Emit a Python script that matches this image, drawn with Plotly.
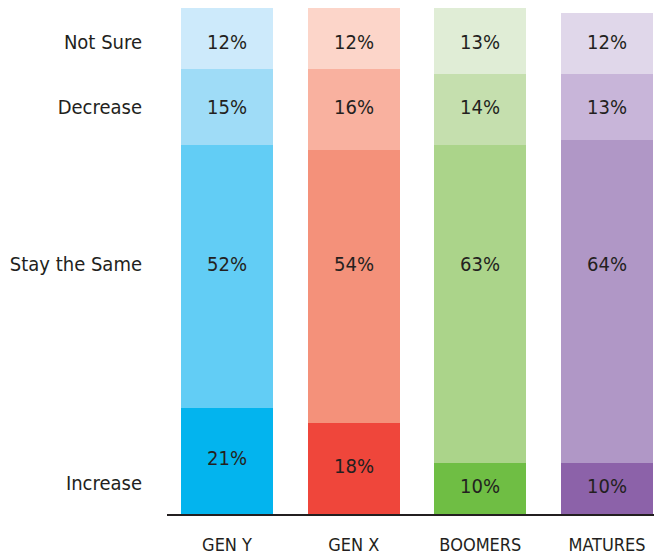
import plotly.graph_objects as go

categories = ["GEN Y", "GEN X", "BOOMERS", "MATURES"]
responses = ["Increase", "Stay the Same", "Decrease", "Not Sure"]
increase = [21, 18, 10, 10]
stay_same = [52, 54, 63, 64]
decrease = [15, 16, 14, 13]
not_sure = [12, 12, 13, 12]
series = [increase, stay_same, decrease, not_sure]

colors = {
    "Increase": ["#03b4ee", "#ef463b", "#6fbe44", "#8c62a9"],
    "Stay the Same": ["#62cdf5", "#f4917a", "#abd48a", "#b097c6"],
    "Decrease": ["#9fdcf7", "#f9b19f", "#c5dfae", "#c8b5d9"],
    "Not Sure": ["#cdeafb", "#fcd5c9", "#e0edd6", "#e0d7ea"],
}

# row label positions (layout, in axis units)
row_y = {"Increase": 6.1, "Stay the Same": 49.4, "Decrease": 80.4, "Not Sure": 93.3}

FONT = "DejaVu Sans Condensed, Liberation Sans Narrow, sans-serif"
TXT = "#231f20"

fig = go.Figure()
for name, vals in zip(responses, series):
    fig.add_trace(go.Bar(
        x=categories, y=vals, name=name,
        marker=dict(color=colors[name], line=dict(width=0)),
        width=0.726, hoverinfo="x+y+name",
    ))

annotations = []
for name, vals in zip(responses, series):
    for i, (c, v) in enumerate(zip(categories, vals)):
        if name == "Increase":
            y = v / 2 + 0.5
        else:
            y = row_y[name]
        annotations.append(dict(
            x=c, y=y, xref="x", yref="y", text=f"{v}%", showarrow=False,
            font=dict(family=FONT, size=20, color=TXT),
            xanchor="center", yanchor="middle",
        ))

# page body has an 8px default margin, so the figure is drawn 8px in
fig.update_layout(
    barmode="stack",
    width=654, height=551,
    margin=dict(l=159, r=0, t=0, b=45, autoexpand=False),
    paper_bgcolor="white", plot_bgcolor="white",
    showlegend=False,
    bargap=0,
    annotations=annotations,
    font=dict(family=FONT, color=TXT),
)
fig.update_xaxes(
    range=[-0.474, 3.434], automargin=False,
    showline=True, linecolor=TXT, linewidth=1.5,
    showgrid=False, zeroline=False, ticks="",
    tickfont=dict(family=FONT, size=18, color=TXT),
    ticklabelstandoff=14,
)
fig.update_yaxes(
    range=[0, 100], automargin=False,
    showgrid=False, zeroline=False, showline=False, ticks="",
    tickvals=[row_y[r] for r in responses], ticktext=responses,
    tickfont=dict(family=FONT, size=20, color=TXT),
    ticklabelstandoff=24,
)

fig.write_html("out.html")
